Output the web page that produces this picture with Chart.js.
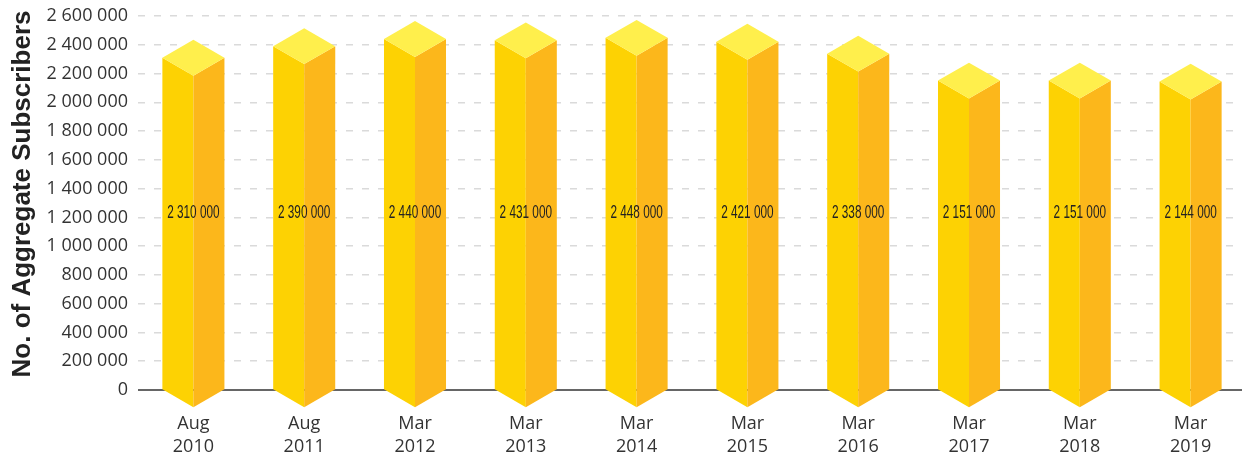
<!DOCTYPE html>
<html>
<head>
<meta charset="utf-8">
<script src="https://cdn.jsdelivr.net/npm/chart.js@4.4.1/dist/chart.umd.min.js"></script>
<style>
  html, body { margin: 0; padding: 0; background: #fff; overflow: hidden; }
  #wrap { position: relative; width: 1246px; height: 461px; }
</style>
</head>
<body>
<div id="wrap"><canvas id="chart"></canvas></div>
<script>
const periods = [
  ['Aug', '2010'], ['Aug', '2011'], ['Mar', '2012'], ['Mar', '2013'], ['Mar', '2014'],
  ['Mar', '2015'], ['Mar', '2016'], ['Mar', '2017'], ['Mar', '2018'], ['Mar', '2019']
]
const subscribers = [2310000, 2390000, 2440000, 2431000, 2448000, 2421000, 2338000, 2151000, 2151000, 2144000]
const yMax = 2600000
const yStep = 200000
const axisTitle = 'No. of Aggregate Subscribers'

// thousands grouped with spaces, like "2 310 000"
function fmt(v) {
  return String(v).replace(/\B(?=(\d{3})+(?!\d))/g, ' ')
}

const bars3d = {
  id: 'bars3d',
  beforeDatasetsDraw(chart) {
    const { ctx, chartArea, scales } = chart
    // solid zero line, bars are painted over it
    const y0 = scales.y.getPixelForValue(0)
    ctx.save()
    ctx.strokeStyle = '#333'
    ctx.lineWidth = 1.5
    ctx.beginPath()
    ctx.moveTo(chartArea.left, y0)
    ctx.lineTo(chartArea.right, y0)
    ctx.stroke()
    ctx.restore()
  },
  afterDatasetsDraw(chart) {
    const { ctx, scales } = chart
    const meta = chart.getDatasetMeta(0)
    ctx.save()
    meta.data.forEach((bar, i) => {
      const x = bar.x, y = bar.y, base = bar.base
      const hw = bar.width / 2
      const d = hw * Math.tan(Math.PI / 6)

      ctx.fillStyle = '#fdd203'
      ctx.beginPath()
      ctx.moveTo(x - hw, y)
      ctx.lineTo(x, y + d)
      ctx.lineTo(x, base + d)
      ctx.lineTo(x - hw, base)
      ctx.closePath()
      ctx.fill()

      ctx.fillStyle = '#fcb71b'
      ctx.beginPath()
      ctx.moveTo(x, y + d)
      ctx.lineTo(x + hw, y)
      ctx.lineTo(x + hw, base)
      ctx.lineTo(x, base + d)
      ctx.closePath()
      ctx.fill()

      ctx.fillStyle = '#ffef4c'
      ctx.beginPath()
      ctx.moveTo(x - hw, y)
      ctx.lineTo(x, y - d)
      ctx.lineTo(x + hw, y)
      ctx.lineTo(x, y + d)
      ctx.closePath()
      ctx.fill()

      // value label, condensed look
      const ly = scales.y.getPixelForValue(1230000)
      ctx.save()
      ctx.translate(x, ly)
      ctx.scale(0.62, 1)
      ctx.fillStyle = '#222'
      ctx.font = '19px "Liberation Sans"'
      ctx.textAlign = 'center'
      ctx.textBaseline = 'middle'
      ctx.fillText(fmt(subscribers[i]), 0, 0)
      ctx.restore()
    })
    ctx.restore()
  },
  afterDraw(chart) {
    const { ctx } = chart
    ctx.save()
    ctx.translate(30, 194)
    ctx.rotate(-Math.PI / 2)
    ctx.fillStyle = '#222'
    ctx.font = 'bold 26px "Liberation Sans"'
    ctx.textAlign = 'center'
    ctx.textBaseline = 'alphabetic'
    ctx.fillText(axisTitle, 0, 0)
    ctx.restore()
  }
}

const chart = new Chart(document.getElementById('chart'), {
  type: 'bar',
  data: {
    labels: periods,
    datasets: [{
      data: subscribers,
      backgroundColor: 'rgba(0,0,0,0)',
      borderWidth: 0,
      categoryPercentage: 1,
      barPercentage: 0.56
    }]
  },
  options: {
    responsive: true,
    maintainAspectRatio: false,
    animation: false,
    layout: { padding: { top: 16, right: 0, bottom: 0, left: 0 } },
    plugins: {
      legend: { display: false },
      tooltip: { enabled: false }
    },
    scales: {
      x: {
        grid: { display: false, drawTicks: false },
        border: { display: false },
        ticks: {
          color: '#333',
          padding: 22,
          maxRotation: 0,
          autoSkip: false,
          font: { family: '"Open Sans"', size: 18, lineHeight: 23 / 18 }
        },
        afterFit(scale) { scale.height = 71 }
      },
      y: {
        min: 0,
        max: yMax,
        grid: {
          drawTicks: false,
          lineWidth: 1.5,
          color: (c) => (c.tick && c.tick.value === 0) ? 'rgba(0,0,0,0)' : '#dadada'
        },
        border: { display: false, dash: [7, 9] },
        ticks: {
          stepSize: yStep,
          color: '#333',
          padding: 10,
          font: { family: '"Open Sans"', size: 18 },
          callback: (v) => fmt(v)
        },
        afterFit(scale) {
          scale.width = 138
          scale.paddingTop = 0
          scale.paddingBottom = 0
        }
      }
    }
  },
  plugins: [bars3d]
})
</script>
</body>
</html>
